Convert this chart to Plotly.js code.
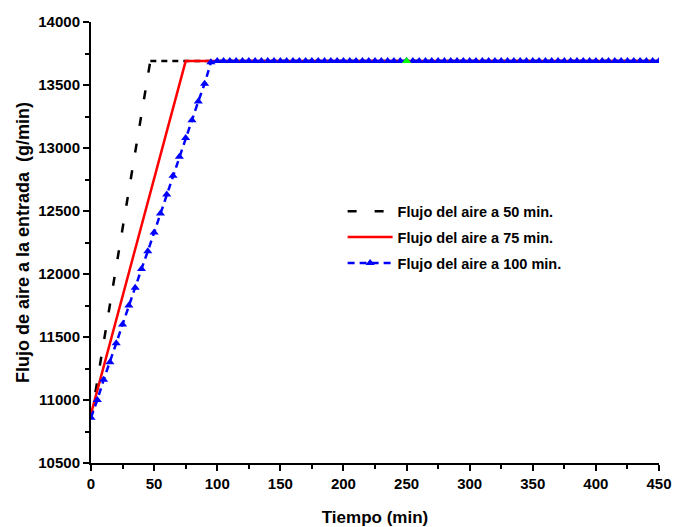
<!DOCTYPE html>
<html>
<head>
<meta charset="utf-8">
<script src="https://cdn.plot.ly/plotly-3.0.1.min.js"></script>
<style>html,body{margin:0;padding:0;background:#fff;}#chart{width:673px;height:527px;}</style>
</head>
<body>
<div id="chart"></div>
<script>
// Data
const seriesNames = ["Flujo del aire a 50 min.", "Flujo del aire a 75 min.", "Flujo del aire a 100 min."];

const blackRampX = [0, 47];
const blackRampY = [10850, 13690];
const blackFlatX = [47, 450];
const blackFlatY = [13690, 13690];

const redX = [0, 75, 450];
const redY = [10890, 13690, 13690];

const blueX = [0, 5, 10, 15, 20, 25, 30, 35, 40, 45, 50, 55, 60, 65, 70, 75, 80, 85, 90, 95,
  100, 105, 110, 115, 120, 125, 130, 135, 140, 145, 150, 155, 160, 165, 170, 175, 180, 185, 190, 195,
  200, 205, 210, 215, 220, 225, 230, 235, 240, 245, 250, 255, 260, 265, 270, 275, 280, 285, 290, 295,
  300, 305, 310, 315, 320, 325, 330, 335, 340, 345, 350, 355, 360, 365, 370, 375, 380, 385, 390, 395,
  400, 405, 410, 415, 420, 425, 430, 435, 440, 445, 450];
const blueY = [10860, 11000, 11160, 11300, 11450, 11600, 11750, 11890, 12040, 12180,
  12330, 12480, 12630, 12780, 12930, 13080, 13220, 13370, 13510, 13680,
  13690, 13690, 13690, 13690, 13690, 13690, 13690, 13690, 13690, 13690,
  13690, 13690, 13690, 13690, 13690, 13690, 13690, 13690, 13690, 13690,
  13690, 13690, 13690, 13690, 13690, 13690, 13690, 13690, 13690, 13690,
  13690, 13690, 13690, 13690, 13690, 13690, 13690, 13690, 13690, 13690,
  13690, 13690, 13690, 13690, 13690, 13690, 13690, 13690, 13690, 13690,
  13690, 13690, 13690, 13690, 13690, 13690, 13690, 13690, 13690, 13690,
  13690, 13690, 13690, 13690, 13690, 13690, 13690, 13690, 13690, 13690, 13690];

const greenX = [250];
const greenY = [13690];

const xTickVals = [0, 50, 100, 150, 200, 250, 300, 350, 400, 450];
const xTickText = ["0", "50", "100", "150", "200", "250", "300", "350", "400", "450"];
const yTickVals = [10500, 11000, 11500, 12000, 12500, 13000, 13500, 14000];
const yTickText = ["10500", "11000", "11500", "12000", "12500", "13000", "13500", "14000"];

const FONT = "Arial, 'Liberation Sans', sans-serif";

const traces = [
  {x: blackRampX, y: blackRampY, type: 'scatter', mode: 'lines', name: seriesNames[0],
   legendgroup: 'a', line: {color: '#000000', width: 2.5, dash: '9px,18px'}},
  {x: blackFlatX, y: blackFlatY, type: 'scatter', mode: 'lines', showlegend: false,
   legendgroup: 'a', line: {color: '#000000', width: 2.5, dash: '6px,5px'}},
  {x: redX, y: redY, type: 'scatter', mode: 'lines', name: seriesNames[1],
   legendgroup: 'b', line: {color: '#FF0000', width: 2.5}},
  {x: blueX, y: blueY, type: 'scatter', mode: 'lines+markers', name: seriesNames[2],
   legendgroup: 'c', line: {color: '#0000FF', width: 2.5, dash: '7px,5px'},
   marker: {symbol: 'triangle-up', size: 8, color: '#0000FF'}},
  {x: greenX, y: greenY, type: 'scatter', mode: 'markers', showlegend: false,
   marker: {symbol: 'triangle-up', size: 8, color: '#00FF00'}}
];

const layout = {
  width: 673, height: 527,
  margin: {l: 91, r: 14, t: 22, b: 64, pad: 0},
  paper_bgcolor: '#ffffff', plot_bgcolor: '#ffffff',
  showlegend: true,
  legend: {
    x: 0.443, y: 0.607, xanchor: 'left', yanchor: 'top',
    bgcolor: 'rgba(0,0,0,0)', borderwidth: 0,
    font: {family: FONT, size: 14.5, color: '#000', weight: 'bold'},
    traceorder: 'grouped', tracegroupgap: 4, itemwidth: 45
  },
  xaxis: {
    range: [0, 450], tickmode: 'array', tickvals: xTickVals, ticktext: xTickText,
    showgrid: false, zeroline: false, showline: true, linecolor: '#000', linewidth: 2,
    ticks: 'outside', ticklen: 6, tickwidth: 2, tickcolor: '#000',
    minor: {dtick: 25, ticks: 'outside', ticklen: 4, tickwidth: 2, tickcolor: '#000', showgrid: false},
    tickfont: {family: FONT, size: 15, color: '#000', weight: 'bold'},
    title: {text: 'Tiempo (min)', font: {family: FONT, size: 17, color: '#000', weight: 'bold'}, standoff: 20},
    automargin: false
  },
  yaxis: {
    range: [10500, 14000], tickmode: 'array', tickvals: yTickVals, ticktext: yTickText,
    showgrid: false, zeroline: false, showline: true, linecolor: '#000', linewidth: 2,
    ticks: 'outside', ticklen: 6, tickwidth: 2, tickcolor: '#000',
    minor: {dtick: 250, ticks: 'outside', ticklen: 4, tickwidth: 2, tickcolor: '#000', showgrid: false},
    tickfont: {family: FONT, size: 15, color: '#000', weight: 'bold'},
    title: {text: '\u00A0\u00A0\u00A0\u00A0Flujo de aire a la entrada\u00A0 (g/min)', font: {family: FONT, size: 18, color: '#000', weight: 'bold'}, standoff: 4},
    automargin: false
  }
};

Plotly.newPlot('chart', traces, layout, {displayModeBar: false, staticPlot: true});
</script>
</body>
</html>
